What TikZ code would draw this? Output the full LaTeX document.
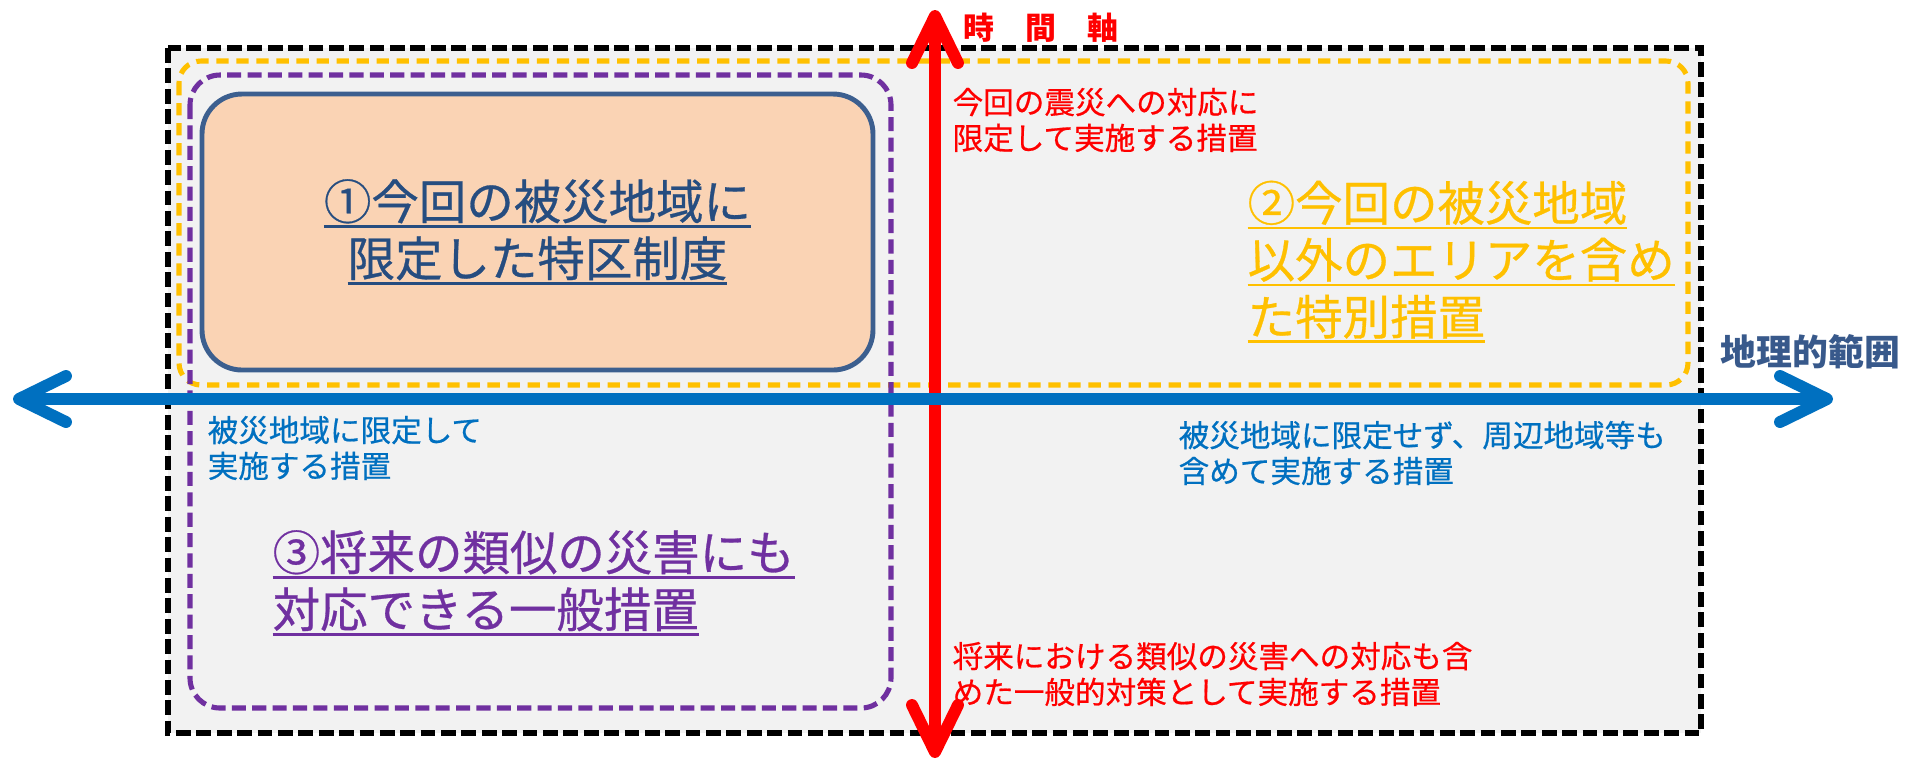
\documentclass[tikz,border=0pt]{standalone}
\usepackage{fontspec}
\setmainfont{Noto Sans CJK JP}
\newfontfamily\jpmid{Noto Sans CJK JP}[FakeBold=0.6]
\usetikzlibrary{arrows.meta}
\newsavebox\ulinebox
\newcommand\ulline[1]{\sbox\ulinebox{#1}\rlap{\rule[-0.18em]{\wd\ulinebox}{0.06em}}\usebox\ulinebox}
\definecolor{axisblue}{HTML}{0070C0}
\definecolor{areagold}{HTML}{FFC000}
\definecolor{areapurple}{HTML}{7030A0}
\definecolor{specialnavy}{HTML}{264D80}
\definecolor{specialframe}{HTML}{3C5F8F}
\definecolor{specialfill}{HTML}{FAD3B4}
\definecolor{rangeblue}{HTML}{38598B}
\definecolor{panelgray}{HTML}{F2F2F2}

\begin{document}
\begin{tikzpicture}[x=0.1mm,y=-0.1mm,
    dashframe/.style={line width=1.45pt,dash pattern=on 4.2pt off 1.6pt},
    axis/.style={line width=3.4pt,{Straight Barb[length=4.7mm,width=4.6mm,round]}-{Straight Barb[length=4.7mm,width=4.6mm,round]}},
    bignote/.style={inner sep=0pt,font=\jpmid\fontsize{13.5pt}{16.2pt}\selectfont},
    note/.style={inner sep=0pt,align=left,anchor=west,font=\jpmid\fontsize{8.7pt}{10.2pt}\selectfont}]
    \useasboundingbox (0,0) rectangle (1925,760);

    % frames
    \draw[dashframe,fill=panelgray] (168,48) rectangle (1701,733);
    \draw[dashframe,areagold,dash pattern=on 3.5pt off 2.2pt,rounded corners=2.2mm] (179,61) rectangle (1688,385);
    \draw[dashframe,areapurple,dash pattern=on 4pt off 1.8pt,rounded corners=3mm] (190,75) rectangle (891,708);
    \node[bignote,draw=specialframe,fill=specialfill,line width=1.4pt,rounded corners=4mm,
          minimum width=67.1mm,minimum height=27.6mm,align=center,text=specialnavy] (special) at (537.5,232)
          {\ulline{①今回の被災地域に}\\\ulline{限定した特区制度}};

    \node[bignote,text=areagold,align=left,anchor=west] (zone2) at (1247,262)
          {\ulline{②今回の被災地域}\\\ulline{以外のエリアを含め}\\\ulline{た特別措置}};
    \node[bignote,text=areapurple,align=left,anchor=west] (zone3) at (272,583)
          {\ulline{③将来の類似の災害にも}\\\ulline{対応できる一般措置}};

    \node[note,text=red] (nowonly) at (952,120) {今回の震災への対応に\\限定して実施する措置};
    \node[note,text=red] (future) at (952,674) {将来における類似の災害への対応も含\\めた一般的対策として実施する措置};
    \node[note,text=axisblue] (areaonly) at (207,448) {被災地域に限定して\\実施する措置};
    \node[note,text=axisblue] (wider) at (1178,453) {被災地域に限定せず、周辺地域等も\\含めて実施する措置};

    % axes
    \coordinate (timeN) at (935,10);
    \coordinate (timeS) at (935,758);
    \coordinate (geoW) at (13,399);
    \coordinate (geoE) at (1833,399);
    \draw[axis,red] (timeN) -- (timeS);
    \draw[axis,axisblue] (geoW) -- (geoE);

    \node[note,text=red,font=\fontsize{8.8pt}{10pt}\selectfont\bfseries] (timelabel) at (963,28) {時　間　軸};
    \node[note,text=rangeblue,font=\fontsize{10.2pt}{12pt}\selectfont\bfseries] (rangelabel) at (1720,352) {地理的範囲};
\end{tikzpicture}
\end{document}
